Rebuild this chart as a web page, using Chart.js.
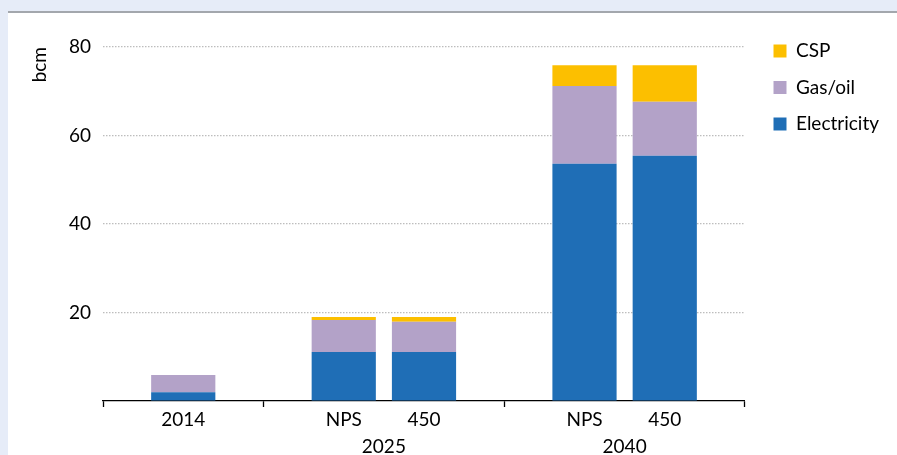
<!DOCTYPE html>
<html>
<head>
<meta charset="utf-8">
<script src="https://cdn.jsdelivr.net/npm/chart.js@4"></script>
<style>
  html, body { margin: 0; padding: 0; }
  body { width: 897px; height: 455px; background: #e6ecf8; position: relative; overflow: hidden; }
  #frame { position: absolute; left: 8px; top: 11px; width: 889px; height: 444px; background: #fff; border-top: 2px solid #a3a7ad; }
  #wrap { position: absolute; left: 0; top: 0; width: 889px; height: 442px; }
</style>
</head>
<body>
<div id="frame"><div id="wrap"><canvas id="c"></canvas></div></div>
<script>
// Slots on the category axis (empty slots separate the groups)
const slotLabels = ["", "2014", "", "NPS", "450", "", "NPS", "450", ""];
const groupLabels = ["2025", "2040"];
const groupCenters = [3.5, 6.5];      // position between the two bars of each group
const separatorSlots = [0, 2, 5, 8];  // tick marks that separate groups

const electricity = [null, 2.0, null, 11.1, 11.1, null, 53.6, 55.4, null];
const gasOil      = [null, 3.9, null, 7.2, 6.8, null, 17.6, 12.2, null];
const csp         = [null, 0.0, null, 0.7, 1.1, null, 4.7, 8.3, null];

const yTicks = [20, 40, 60, 80];

const FONT = "Lato, 'Open Sans', sans-serif";
const FS = 19;

new Chart(document.getElementById('c'), {
  type: 'bar',
  data: {
    labels: slotLabels,
    datasets: [
      { label: 'Electricity', data: electricity, backgroundColor: '#1f6eb6' },
      { label: 'Gas/oil', data: gasOil, backgroundColor: '#b3a2c8' },
      { label: 'CSP', data: csp, backgroundColor: '#fcbf00' }
    ]
  },
  options: {
    responsive: true,
    maintainAspectRatio: false,
    animation: false,
    layout: { padding: { top: 11, left: 10, right: 8, bottom: 0 } },
    datasets: { bar: { barPercentage: 0.8, categoryPercentage: 1.0 } },
    plugins: {
      title: { display: true, text: '', padding: 0, font: { size: 23, lineHeight: 1 } },
      tooltip: { enabled: false },
      legend: {
        position: 'right',
        align: 'start',
        reverse: true,
        labels: {
          boxWidth: 13, boxHeight: 13, padding: 17.5,
          color: '#000',
          font: { family: FONT, size: FS }
        }
      }
    },
    scales: {
      x: {
        stacked: true,
        offset: false,
        afterFit: (s) => { s.height = 28; },
        grid: {
          offset: false,
          drawOnChartArea: false,
          drawTicks: true,
          tickLength: 6,
          tickWidth: 1.3,
          tickColor: (ctx) => separatorSlots.includes(ctx.index) ? '#000' : 'rgba(0,0,0,0)'
        },
        border: { display: true, color: '#000', width: 1.3 },
        ticks: {
          autoSkip: false, maxRotation: 0, padding: 1,
          color: '#000',
          font: { family: FONT, size: FS },
          callback: (v, i) => slotLabels[i]
        }
      },
      x2: {
        type: 'linear',
        position: 'bottom',
        offset: false,
        min: 0, max: slotLabels.length - 1,
        afterFit: (s) => { s.height = 26; },
        grid: { display: false, offset: false },
        border: { display: false },
        afterBuildTicks: (s) => { s.ticks = groupCenters.map(v => ({ value: v })); },
        ticks: {
          autoSkip: false, maxRotation: 0, padding: -2,
          color: '#000',
          font: { family: FONT, size: FS },
          callback: (v) => { const i = groupCenters.indexOf(v); return i >= 0 ? groupLabels[i] : ''; }
        }
      },
      y: {
        stacked: true,
        min: 0, max: 80,
        afterBuildTicks: (s) => { s.ticks = [0].concat(yTicks).map(v => ({ value: v })); },
        afterFit: (s) => { s.width = 85; },
        grid: {
          drawTicks: false,
          color: (ctx) => ctx.tick && ctx.tick.value === 0 ? 'rgba(0,0,0,0)' : '#bdbdbd',
          lineWidth: 1.2
        },
        border: { display: false, dash: [1.5, 1.5] },
        ticks: {
          padding: 12,
          color: '#000',
          font: { family: FONT, size: FS },
          callback: (v) => v === 0 ? '' : v
        },
        title: {
          display: true, text: 'bcm', align: 'end',
          color: '#000',
          font: { family: FONT, size: FS },
          padding: { top: 10, bottom: 0 }
        }
      },
      ySpacer: {
        type: 'linear',
        position: 'right',
        display: true,
        grid: { display: false },
        border: { display: false },
        ticks: { display: false },
        afterFit: (s) => { s.width = 11; }
      }
    }
  }
});
</script>
</body>
</html>
